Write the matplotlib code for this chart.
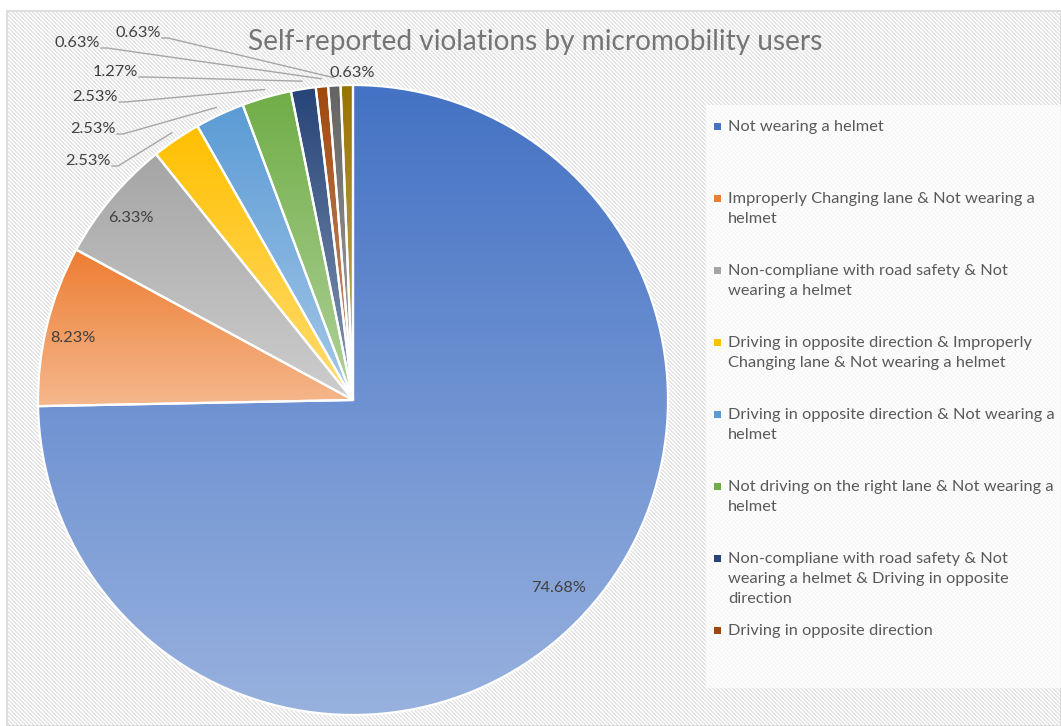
import numpy as np
import matplotlib.pyplot as plt
from matplotlib.colors import to_rgb, LinearSegmentedColormap
from matplotlib.patches import Rectangle

plt.rcParams['font.family'] = ['Lato', 'DejaVu Sans']

TITLE = "Self-reported violations by micromobility users"

# legend only lists the first eight groups
categories = [
    "Not wearing a helmet",
    "Improperly Changing lane & Not wearing a\nhelmet",
    "Non-compliane with road safety & Not\nwearing a helmet",
    "Driving in opposite direction & Improperly\nChanging lane & Not wearing a helmet",
    "Driving in opposite direction & Not wearing a\nhelmet",
    "Not driving on the right lane & Not wearing a\nhelmet",
    "Non-compliane with road safety & Not\nwearing a helmet & Driving in opposite\ndirection",
    "Driving in opposite direction",
]
shares = [74.68, 8.23, 6.33, 2.53, 2.53, 2.53, 1.27, 0.63, 0.63, 0.63]
colors = ["#4472C4", "#ED7D31", "#A5A5A5", "#FFC000", "#5B9BD5",
          "#70AD47", "#264478", "#9E480E", "#636363", "#997300"]

# pixel layout of the figure
W, H = 1061, 726
CX, CY, R = 353, 400, 315

# data label centres (pixels) and whether a leader line is drawn
label_px = [(559, 588), (73, 338), (131, 218), (88, 161), (93, 129),
            (95, 97), (115, 72), (77, 43), (138, 33), (352, 73)]
has_leader = [False, False, False, True, True, True, True, True, True, False]


def px(x, y):
    return (x - CX) / R, (CY - y) / R


fig = plt.figure(figsize=(W / 100, H / 100), dpi=100)
fig.patch.set_facecolor("white")

# striped chart-area background
bg = fig.add_axes([0, 0, 1, 1], zorder=-2)
yy, xx = np.mgrid[0:H, 0:W]
stripes = np.where((xx - yy) % 4 < 2, 0.895, 0.985)
img = np.ones((H, W))
img[11:, 7:] = stripes[11:, 7:]
bg.imshow(img, cmap="gray", vmin=0, vmax=1, extent=(0, W, H, 0), interpolation="nearest")
bg.add_patch(Rectangle((7, 11), W - 7, H - 11, fill=False, edgecolor="#d9d9d9", linewidth=1.2))
bg.add_patch(Rectangle((706, 105), W - 706, 583, facecolor="white", alpha=0.72, edgecolor="none"))
bg.set_xlim(0, W)
bg.set_ylim(H, 0)
bg.axis("off")

ax = fig.add_axes([0, 0, 1, 1])
ax.patch.set_alpha(0)

wedges, _ = ax.pie(shares, colors=colors, startangle=90, counterclock=False,
                   radius=1, center=(0, 0),
                   wedgeprops=dict(edgecolor="white", linewidth=1.6))

# vertical light gradient inside every slice
grad = np.linspace(0, 1, 256).reshape(-1, 1)
for w, c in zip(wedges, colors):
    top = np.array(to_rgb(c))
    bottom = top + (1 - top) * 0.45
    cmap = LinearSegmentedColormap.from_list("g", [top, bottom])
    ext = w.get_path().get_extents()
    im = ax.imshow(grad, cmap=cmap, extent=(ext.x0, ext.x1, ext.y0, ext.y1),
                   origin="upper", aspect="auto", zorder=1, interpolation="bilinear")
    im.set_clip_path(w)
    w.set_facecolor("none")
    w.set_zorder(2)

# percentage labels and leader lines
for i, (w, v) in enumerate(zip(wedges, shares)):
    lx, ly = label_px[i]
    tx, ty = px(lx, ly)
    ax.text(tx, ty, f"{v:.2f}%", ha="center", va="center", fontsize=11.8,
            color="#404040", zorder=4)
    if has_leader[i]:
        mid = np.deg2rad((w.theta1 + w.theta2) / 2)
        ex, ey = 1.025 * np.cos(mid), 1.025 * np.sin(mid)
        sx, sy = px(lx + 24, ly + 5)
        hx, _ = px(lx + 30, ly + 5)
        ax.plot([sx, hx, ex], [sy, sy, ey], color="#a6a6a6", linewidth=1.0, zorder=3)

ax.set_xlim(-CX / R, (W - CX) / R)
ax.set_ylim((CY - H) / R, CY / R)
ax.set_aspect("auto")
ax.axis("off")

fig.text(535 / W, 1 - 42 / H, TITLE, ha="center", va="center",
         fontsize=20.2, color="#757575")

# legend drawn entry by entry
for i, (name, c) in enumerate(zip(categories, colors)):
    y = 126 + 72 * i
    fig.patches.append(Rectangle((714 / W, 1 - (y + 4) / H), 7 / W, 7 / H,
                                 transform=fig.transFigure, facecolor=c,
                                 edgecolor="none", figure=fig))
    fig.text(728 / W, 1 - (y - 6) / H, name, ha="left", va="top",
             fontsize=11.8, color="#595959", linespacing=1.55)

fig.savefig("out.png", dpi=100)
